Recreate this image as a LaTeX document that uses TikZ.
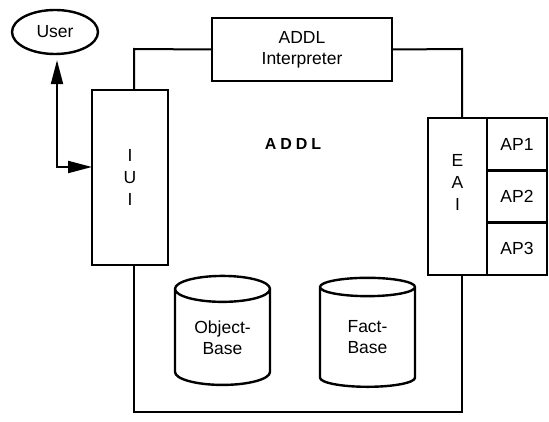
\documentclass[tikz,border=0pt]{standalone}
\usepackage{fontspec}
\setmainfont{Liberation Sans}
\usetikzlibrary{shapes.geometric,arrows.meta,positioning}

\begin{document}
\begin{tikzpicture}[x=1pt,y=1pt,
  box/.style={draw, rectangle, line width=2.6pt, outer sep=0pt, inner sep=0pt, align=center, font=\fontsize{17.5}{21}\selectfont},
  base/.style={draw, cylinder, shape border rotate=90, aspect=0.46, line width=2.4pt, inner sep=0pt, minimum width=95pt, minimum height=109pt, align=center, font=\fontsize{17.5}{21}\selectfont},
  wire/.style={line width=2pt},
  userlink/.style={line width=2pt, {Triangle[length=24pt,width=12pt]}-{Triangle[length=24pt,width=12pt]}}]
\useasboundingbox (0,0) rectangle (549,421);

\node (user) [draw, ellipse, line width=2.4pt, minimum width=86pt, minimum height=44pt, inner sep=0pt, font=\fontsize{17.5}{21}\selectfont] at (55,389) {User};
\node (interp) [box, minimum width=180pt, minimum height=63pt] at (302,371.5) {ADDL\\Interpreter};
\node (iui) [box, minimum width=76pt, minimum height=175pt, font=\fontsize{17.5}{22}\selectfont] at (130,243.5) {I\\U\\I};
\node (eai) [box, minimum width=59pt, minimum height=157pt, font=\fontsize{17.5}{22}\selectfont] at (457.5,224.5) {E\\A\\I\\[6pt]};
\node (ap1) [box, minimum width=60pt, minimum height=52.33pt, anchor=north west] at (eai.north east) {AP1};
\node (ap2) [box, minimum width=60pt, minimum height=52.33pt, below=0pt of ap1] {AP2};
\node (ap3) [box, minimum width=60pt, minimum height=52.33pt, below=0pt of ap2] {AP3};
\node (addl) at (293,277) {\fontsize{16}{19}\selectfont\bfseries A\kern4pt D\kern4pt D\kern4pt L};
\node (objbase) [base] at (222.5,83.5) {Object-\\Base};
\node (factbase) [base] at (367.5,83.5) {Fact-\\Base};

\coordinate (tl) at (134,372);
\coordinate (tr) at (462,372);
\coordinate (bl) at (134,9);
\coordinate (br) at (462,9);
\coordinate (bend) at (57,254);

\draw [wire] (iui.north -| tl) -- (tl) -- (interp.west);
\draw [wire] (interp.east) -- (tr) -- (tr |- eai.north);
\draw [wire] (br |- eai.south) -- (br) -- (bl) -- (bl |- iui.south);
\draw [userlink, shorten <=5pt] (user.south -| bend) -- (bend) -- (bend -| iui.west);
\end{tikzpicture}
\end{document}
